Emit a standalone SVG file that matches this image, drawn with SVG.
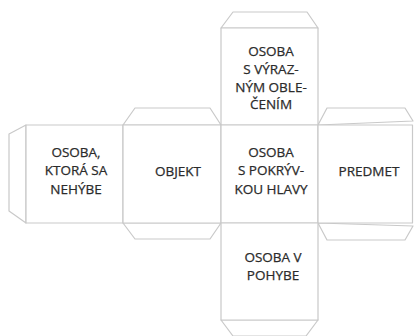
<svg xmlns="http://www.w3.org/2000/svg" width="414" height="336" viewBox="0 0 414 336">
<style>
.f{fill:#fff;stroke:#c9c9c9;stroke-width:1.2;stroke-linejoin:round}
.t{font-family:"Open Sans","Liberation Sans",sans-serif;font-size:13.5px;fill:#2b2b2b;stroke:#2b2b2b;stroke-width:0.25;text-anchor:middle}
</style>
<rect width="414" height="336" fill="#fff"/>
<g id="flaps">
<polygon class="f" points="221,28 233,12 307,12 318,28"/>
<polygon class="f" points="123,125 135,108 210,108 221,125"/>
<polygon class="f" points="318,125 327,108 405,108 413,121"/>
<polygon class="f" points="26,125 9,134 9,211 26,223"/>
<polygon class="f" points="123,223 135,239 210,239 221,223"/>
<polygon class="f" points="318,223 327,240 405,240 413,226"/>
<polygon class="f" points="221,320 233,336 306,336 318,320"/>
</g>
<g id="top">
<rect class="f" x="221" y="28" width="97" height="97"/>
<text class="t" x="271" y="56">OSOBA</text>
<text class="t" x="271" y="74">S VÝRAZ-</text>
<text class="t" x="271" y="91.5">NÝM OBLE-</text>
<text class="t" x="271" y="109">ČENÍM</text>
</g>
<g id="left">
<rect class="f" x="26" y="125" width="97" height="98"/>
<text class="t" x="76" y="157">OSOBA,</text>
<text class="t" x="76" y="175">KTORÁ SA</text>
<text class="t" x="76" y="194">NEHÝBE</text>
</g>
<g id="objekt">
<rect class="f" x="123" y="125" width="98" height="98"/>
<text class="t" x="178" y="176">OBJEKT</text>
</g>
<g id="center">
<rect class="f" x="221" y="125" width="97" height="98"/>
<text class="t" x="271" y="157">OSOBA</text>
<text class="t" x="271" y="175">S POKRÝV-</text>
<text class="t" x="271" y="194">KOU HLAVY</text>
</g>
<g id="predmet">
<rect class="f" x="318" y="125" width="94.5" height="98"/>
<text class="t" x="369" y="176">PREDMET</text>
</g>
<g id="bottom">
<rect class="f" x="221" y="223" width="97" height="97"/>
<text class="t" x="273" y="262">OSOBA V</text>
<text class="t" x="273" y="280">POHYBE</text>
</g>
</svg>
